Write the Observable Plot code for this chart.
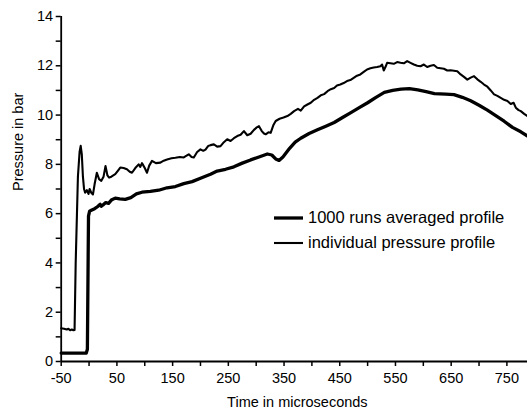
<!DOCTYPE html>
<html>
<head>
<meta charset="utf-8">
<script src="https://cdn.jsdelivr.net/npm/d3@7"></script>
<script src="https://cdn.jsdelivr.net/npm/@observablehq/plot@0.6"></script>
<style>
  html, body { margin: 0; padding: 0; background: #fff; }
  #wrap { position: relative; width: 527px; height: 410px; font-family: Arial, "Liberation Sans", sans-serif; }
  #legend { position: absolute; left: 274px; top: 205px; font-size: 16.5px; color: #000; }
  .row { display: flex; align-items: center; height: 25px; }
  .sw { width: 29px; margin-right: 5px; }
</style>
</head>
<body>
<div id="wrap"></div>
<script>
// Series names
const seriesNames = ["1000 runs averaged profile", "individual pressure profile"];

// Averaged profile (thick)
const avgTime = [-50,-5,-3,-1,1,5,10,15,20,22,25,30,35,40,47,55,65,75,85,95,110,125,140,155,170,185,200,218,230,245,260,275,290,305,320,328,335,341,348,360,370,380,395,410,425,440,455,470,485,500,515,530,545,560,575,590,605,620,640,655,670,685,700,715,730,745,760,775,787];
const avgPressure = [0.34,0.34,0.5,5.9,6.1,6.15,6.2,6.28,6.38,6.3,6.35,6.45,6.42,6.55,6.63,6.6,6.58,6.65,6.8,6.87,6.9,6.95,7.05,7.1,7.22,7.3,7.44,7.6,7.73,7.8,7.9,8.05,8.18,8.3,8.42,8.38,8.22,8.16,8.3,8.65,8.9,9.06,9.25,9.4,9.55,9.7,9.9,10.1,10.3,10.5,10.72,10.92,11.0,11.05,11.07,11.02,10.95,10.87,10.85,10.83,10.72,10.58,10.4,10.2,9.98,9.75,9.5,9.32,9.15];

// Individual profile (thin)
const indTime = [-50,-45,-40,-37,-34,-31,-28,-26,-24,-20,-17,-15,-13,-11,-9,-7,-4,-1,1,4,7,10,14,18,22,26,29.5,33,36,40,47,52,56,62,68,73,77,83,89,92,95,100,104,108,113,120,128,134,140,148,155,163,170,175,179,184,188,194,200,205,209,214,218,224,230,236,242,248,254,260,266,272,278,284,290,296,301,305,310,314,317,322,326,331,335,342,349,356,362,368,375,380,386,392,398,404,410,416,422,428,434,440,445,451,457,463,469,475,481,487,493,499,505,511,517,523,526,529,532,535,541,547,553,559,565,571,577,583,589,595,601,607,613,619,625,631,637,643,649,655,661,667,673,679,685,691,697,703,709,715,721,727,733,739,745,751,757,762,766,771,775,781,787];
const indPressure = [1.35,1.33,1.3,1.33,1.27,1.3,1.27,1.28,4,7.5,8.5,8.75,8.4,7.5,7.0,6.85,6.95,6.8,7.0,6.85,6.78,7.2,7.66,7.4,7.33,7.5,7.93,7.55,7.46,7.5,7.6,7.75,7.87,7.85,7.8,7.7,7.66,7.85,8.0,7.9,8.05,7.85,7.66,7.95,8.14,8.05,8.07,8.15,8.2,8.25,8.27,8.3,8.28,8.35,8.41,8.3,8.28,8.5,8.61,8.55,8.6,8.75,8.78,8.81,8.72,8.74,8.9,9.02,8.95,9.06,9.15,9.2,9.35,9.18,9.24,9.4,9.5,9.55,9.35,9.25,9.22,9.3,9.28,9.6,9.76,9.85,9.9,9.96,10.05,10.16,10.25,10.18,10.35,10.43,10.5,10.62,10.7,10.8,10.85,10.97,11.05,11.1,11.2,11.24,11.3,11.38,11.42,11.51,11.6,11.65,11.75,11.85,11.9,11.93,11.95,11.98,12.05,11.81,11.95,12.12,12.1,12.08,12.15,12.12,12.1,12.19,12.12,12.05,12.0,11.98,12.05,11.95,12.0,12.03,11.92,11.9,11.88,11.81,11.82,11.8,11.78,11.65,11.55,11.44,11.52,11.58,11.45,11.35,11.24,11.15,11.0,10.84,10.78,10.7,10.62,10.57,10.45,10.5,10.3,10.2,10.16,10.05,9.96];

// Ticks
const xTicks = [-50, 50, 150, 250, 350, 450, 550, 650, 750];
const xMinorTicks = [0, 100, 200, 300, 400, 500, 600, 700];
const yTicks = [0, 2, 4, 6, 8, 10, 12, 14];
const yMinorTicks = [1, 3, 5, 7, 9, 11, 13];
const xLabel = "Time in microseconds";
const yLabel = "Pressure in bar";

const avg = avgTime.map((t, i) => ({t, p: avgPressure[i]}));
const ind = indTime.map((t, i) => ({t, p: indPressure[i]}));

const chart = Plot.plot({
  width: 527,
  height: 410,
  marginLeft: 60.7,
  marginRight: 0,
  marginTop: 16,
  marginBottom: 49,
  style: {fontFamily: 'Arial, "Liberation Sans", sans-serif', fontSize: "14.5px", color: "#000", background: "#fff"},
  x: {domain: [-50, 787]},
  y: {domain: [0, 14]},
  marks: [
    Plot.axisX({ticks: xTicks, tickSize: 5, tickPadding: 6, strokeWidth: 1.5, label: null, fontSize: 14.5, tickFormat: d => String(d)}),
    Plot.axisX({ticks: xMinorTicks, tickSize: 5, strokeWidth: 1.5, tickFormat: () => "", label: null}),
    Plot.axisY({ticks: yTicks, tickSize: 5, tickPadding: 3, strokeWidth: 1.5, label: null, fontSize: 14.5, tickFormat: d => String(d)}),
    Plot.axisY({ticks: yMinorTicks, tickSize: 5, strokeWidth: 1.5, tickFormat: () => "", label: null}),
    Plot.line(ind, {x: "t", y: "p", stroke: "#000", strokeWidth: 2.1, strokeLinejoin: "round"}),
    Plot.line(avg, {x: "t", y: "p", stroke: "#000", strokeWidth: 3.3, strokeLinejoin: "round"}),
    Plot.ruleY([0], {stroke: "#000", strokeWidth: 1.8}),
    Plot.ruleX([-50], {stroke: "#000", strokeWidth: 1.8}),
    Plot.text([xLabel], {frameAnchor: "bottom", dy: 41, dx: 3, lineAnchor: "middle", fontSize: 14.5, fill: "#000"}),
    Plot.text([yLabel], {frameAnchor: "left", dx: -43, dy: 2, rotate: -90, lineAnchor: "middle", fontSize: 14.5, fill: "#000"})
  ]
});

const wrap = document.getElementById("wrap");
wrap.appendChild(chart);

const legend = document.createElement("div");
legend.id = "legend";
const widths = [3.3, 2.1];
seriesNames.forEach((name, i) => {
  const row = document.createElement("div");
  row.className = "row";
  row.innerHTML = `<svg class="sw" width="29" height="10"><line x1="0" x2="29" y1="5" y2="5" stroke="#000" stroke-width="${widths[i]}"/></svg><span>${name}</span>`;
  legend.appendChild(row);
});
wrap.appendChild(legend);
</script>
</body>
</html>
